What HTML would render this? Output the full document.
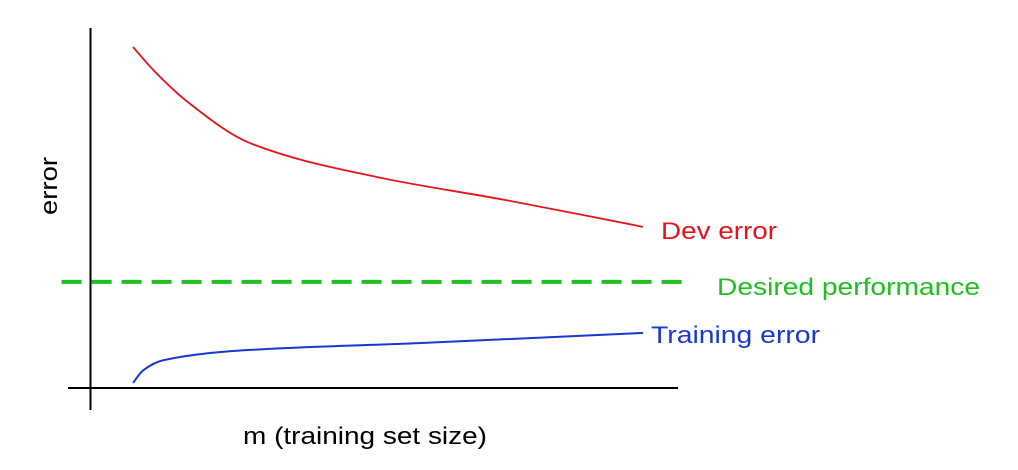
<!DOCTYPE html>
<html><head><meta charset="utf-8"><style>
html,body{margin:0;padding:0;background:#fff;width:1018px;height:470px;overflow:hidden}
text{font-family:"Liberation Sans",Arial,sans-serif}
</style></head><body>
<svg id="chart" width="1018" height="470" viewBox="0 0 1018 470" xmlns="http://www.w3.org/2000/svg">
<line x1="90.5" y1="28" x2="90.5" y2="410" stroke="#000" stroke-width="2"/>
<line x1="68" y1="388" x2="678" y2="388" stroke="#000" stroke-width="2"/>
<text transform="translate(57,186) rotate(-90)" text-anchor="middle" font-size="24" textLength="58" lengthAdjust="spacingAndGlyphs" fill="#000">error</text>
<text x="243" y="444" font-size="24" textLength="244" lengthAdjust="spacingAndGlyphs" fill="#000">m (training set size)</text>
<g id="series"></g>
<text x="661" y="239" font-size="24" textLength="116" lengthAdjust="spacingAndGlyphs" fill="#e3141a">Dev error</text>
<text x="717" y="295" font-size="24" textLength="263" lengthAdjust="spacingAndGlyphs" fill="#1ec01e">Desired performance</text>
<text x="651" y="343" font-size="24" textLength="169" lengthAdjust="spacingAndGlyphs" fill="#1838d0">Training error</text>
</svg>
<script>
const devM = [0, 4, 11, 23, 48, 73, 100];
const devErr = [100.3, 93.5, 83.8, 72, 62, 55.3, 47.4];
const trainM = [0, 2, 6, 23, 56, 100];
const trainErr = [1.5, 5.2, 8.2, 11.2, 13.2, 16.2];
const desiredErr = 31.2;
const desiredRange = [-14, 109];

const xs = m => 133 + m * 5.1;
const ys = e => 388 - e * 3.4;
const NS = 'http://www.w3.org/2000/svg';
const g = document.getElementById('series');

function monotonePath(mx, ey) {
  const x = mx.map(xs), y = ey.map(ys), n = x.length;
  const d = [], s = [];
  for (let i = 0; i < n - 1; i++) d.push((y[i + 1] - y[i]) / (x[i + 1] - x[i]));
  s[0] = d[0]; s[n - 1] = d[n - 2];
  for (let i = 1; i < n - 1; i++) {
    if (d[i - 1] * d[i] <= 0) s[i] = 0;
    else {
      const h0 = x[i] - x[i - 1], h1 = x[i + 1] - x[i];
      const w1 = 2 * h1 + h0, w2 = h1 + 2 * h0;
      s[i] = (w1 + w2) / (w1 / d[i - 1] + w2 / d[i]);
    }
  }
  let p = 'M' + x[0] + ',' + y[0];
  for (let i = 0; i < n - 1; i++) {
    const h = (x[i + 1] - x[i]) / 3;
    p += ' C' + (x[i] + h) + ',' + (y[i] + s[i] * h) + ' ' + (x[i + 1] - h) + ',' + (y[i + 1] - s[i + 1] * h) + ' ' + x[i + 1] + ',' + y[i + 1];
  }
  return p;
}

const dl = document.createElementNS(NS, 'line');


dl.setAttribute('x1', xs(desiredRange[0]));
dl.setAttribute('x2', xs(desiredRange[1]));
dl.setAttribute('y1', ys(desiredErr));
dl.setAttribute('y2', ys(desiredErr));
dl.setAttribute('stroke', '#1ec01e');
dl.setAttribute('stroke-width', '4');
dl.setAttribute('stroke-dasharray', '20 10');
g.appendChild(dl);

const dev = document.createElementNS(NS, 'path');


dev.setAttribute('d', monotonePath(devM, devErr));
dev.setAttribute('fill', 'none');
dev.setAttribute('stroke', '#e3141a');
dev.setAttribute('stroke-width', '1.8');
g.appendChild(dev);

const tr = document.createElementNS(NS, 'path');


tr.setAttribute('d', monotonePath(trainM, trainErr));
tr.setAttribute('fill', 'none');
tr.setAttribute('stroke', '#1838d0');
tr.setAttribute('stroke-width', '2');
g.appendChild(tr);
</script>
</body></html>
